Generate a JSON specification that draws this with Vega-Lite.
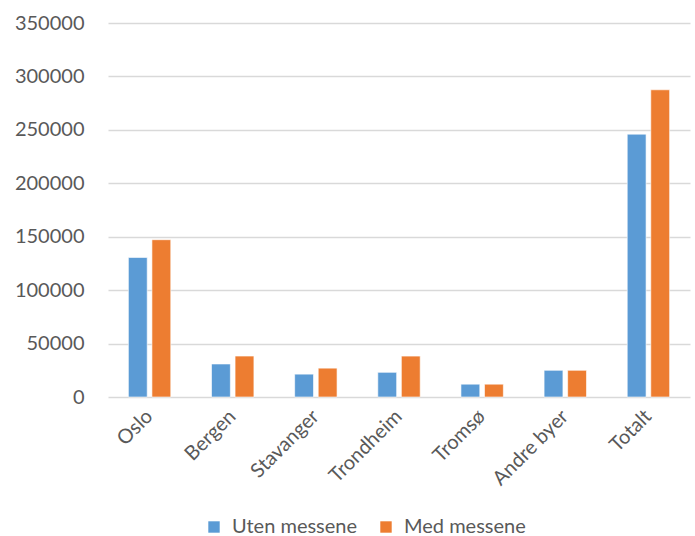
{
  "$schema": "https://vega.github.io/schema/vega-lite/v6.json",
  "width": 582,
  "height": 374,
  "autosize": "none",
  "padding": {"left": 108, "top": 23, "right": 5, "bottom": 139},
  "background": "white",
  "data": {
    "values": [
      {"by": "Oslo", "serie": "Uten messene", "antall": 130600},
      {"by": "Oslo", "serie": "Med messene", "antall": 147200},
      {"by": "Bergen", "serie": "Uten messene", "antall": 30900},
      {"by": "Bergen", "serie": "Med messene", "antall": 38300},
      {"by": "Stavanger", "serie": "Uten messene", "antall": 21400},
      {"by": "Stavanger", "serie": "Med messene", "antall": 27000},
      {"by": "Trondheim", "serie": "Uten messene", "antall": 23100},
      {"by": "Trondheim", "serie": "Med messene", "antall": 38300},
      {"by": "Tromsø", "serie": "Uten messene", "antall": 12000},
      {"by": "Tromsø", "serie": "Med messene", "antall": 12000},
      {"by": "Andre byer", "serie": "Uten messene", "antall": 25000},
      {"by": "Andre byer", "serie": "Med messene", "antall": 25000},
      {"by": "Totalt", "serie": "Uten messene", "antall": 246000},
      {"by": "Totalt", "serie": "Med messene", "antall": 287500}
    ]
  },
  "mark": {"type": "bar", "stroke": "white", "strokeWidth": 1, "strokeOpacity": 0.6},
  "encoding": {
    "x": {
      "field": "by",
      "type": "nominal",
      "sort": ["Oslo", "Bergen", "Stavanger", "Trondheim", "Tromsø", "Andre byer", "Totalt"],
      "scale": {"paddingInner": 0.49, "paddingOuter": 0.245},
      "axis": {
        "title": null,
        "labelAngle": -45,
        "labelAlign": "right",
        "labelBaseline": "middle",
        "labelPadding": 16,
        "labelFont": "Lato",
        "labelFontSize": 20,
        "labelColor": "#595959",
        "ticks": false,
        "domain": false,
        "grid": false
      }
    },
    "xOffset": {
      "field": "serie",
      "type": "nominal",
      "sort": ["Uten messene", "Med messene"],
      "scale": {"paddingInner": 0.2}
    },
    "y": {
      "field": "antall",
      "type": "quantitative",
      "scale": {"domain": [0, 350000], "nice": false},
      "axis": {
        "title": null,
        "values": [0, 50000, 100000, 150000, 200000, 250000, 300000, 350000],
        "format": "d",
        "labelFont": "Lato",
        "labelFontSize": 20,
        "labelColor": "#595959",
        "labelPadding": 24,
        "ticks": false,
        "domain": false,
        "grid": true,
        "gridColor": "#D9D9D9",
        "gridWidth": 1.5
      }
    },
    "color": {
      "field": "serie",
      "type": "nominal",
      "sort": ["Uten messene", "Med messene"],
      "scale": {"domain": ["Uten messene", "Med messene"], "range": ["#5B9BD5", "#ED7D31"]},
      "legend": {
        "title": null,
        "orient": "none",
        "direction": "horizontal",
        "legendX": 96,
        "legendY": 494,
        "symbolType": "square",
        "symbolSize": 130,
        "symbolStrokeWidth": 0,
        "labelFont": "Lato",
        "labelFontSize": 20,
        "labelColor": "#595959",
        "labelOffset": 8,
        "columnPadding": 18
      }
    }
  },
  "config": {"view": {"stroke": null}}
}
